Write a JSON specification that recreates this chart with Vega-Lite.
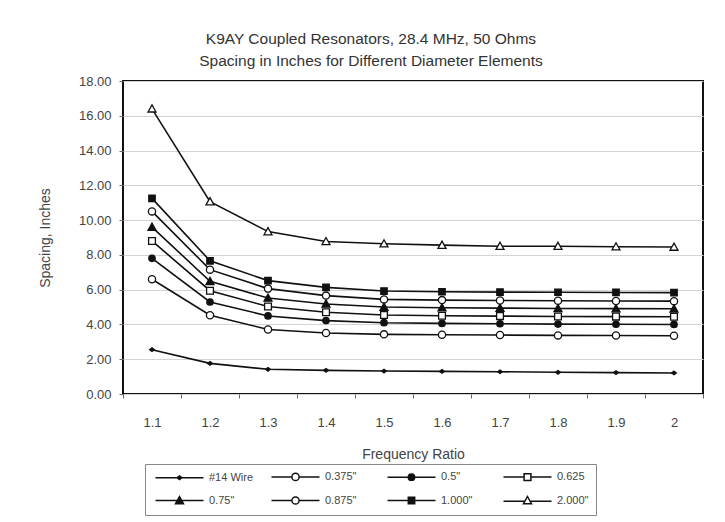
{
  "$schema": "https://vega.github.io/schema/vega-lite/v6.json",
  "autosize": {"type": "pad"},
  "width": 580,
  "height": 313,
  "padding": {"left": 38, "top": 31, "right": 22, "bottom": 10},
  "background": "white",
  "title": {
    "text": ["K9AY Coupled Resonators, 28.4 MHz, 50 Ohms", "Spacing in Inches for Different Diameter Elements"],
    "anchor": "middle",
    "frame": "bounds",
    "font": "Liberation Sans",
    "fontSize": 15.5,
    "fontWeight": "normal",
    "color": "#333",
    "lineHeight": 22,
    "offset": 6
  },
  "config": {
    "font": "Liberation Sans",
    "view": {"stroke": "#111", "strokeWidth": 2},
    "axis": {
      "labelFont": "Liberation Sans",
      "labelFontSize": 13,
      "labelColor": "#444",
      "titleFont": "Liberation Sans",
      "titleFontSize": 14,
      "titleFontWeight": "normal",
      "titleColor": "#444",
      "domain": false,
      "tickColor": "#666",
      "tickSize": 4
    },
    "legend": {
      "labelFont": "Liberation Sans",
      "labelFontSize": 11,
      "labelColor": "#444"
    }
  },
  "data": {
    "values": [
      {"series": "#14 Wire", "ratio": "1.1", "spacing": 2.55},
      {"series": "#14 Wire", "ratio": "1.2", "spacing": 1.76},
      {"series": "#14 Wire", "ratio": "1.3", "spacing": 1.42},
      {"series": "#14 Wire", "ratio": "1.4", "spacing": 1.36},
      {"series": "#14 Wire", "ratio": "1.5", "spacing": 1.32},
      {"series": "#14 Wire", "ratio": "1.6", "spacing": 1.30},
      {"series": "#14 Wire", "ratio": "1.7", "spacing": 1.28},
      {"series": "#14 Wire", "ratio": "1.8", "spacing": 1.25},
      {"series": "#14 Wire", "ratio": "1.9", "spacing": 1.23},
      {"series": "#14 Wire", "ratio": "2", "spacing": 1.21},
      {"series": "0.375\"", "ratio": "1.1", "spacing": 6.6},
      {"series": "0.375\"", "ratio": "1.2", "spacing": 4.53},
      {"series": "0.375\"", "ratio": "1.3", "spacing": 3.71},
      {"series": "0.375\"", "ratio": "1.4", "spacing": 3.51},
      {"series": "0.375\"", "ratio": "1.5", "spacing": 3.43},
      {"series": "0.375\"", "ratio": "1.6", "spacing": 3.41},
      {"series": "0.375\"", "ratio": "1.7", "spacing": 3.39},
      {"series": "0.375\"", "ratio": "1.8", "spacing": 3.37},
      {"series": "0.375\"", "ratio": "1.9", "spacing": 3.36},
      {"series": "0.375\"", "ratio": "2", "spacing": 3.35},
      {"series": "0.5\"", "ratio": "1.1", "spacing": 7.8},
      {"series": "0.5\"", "ratio": "1.2", "spacing": 5.29},
      {"series": "0.5\"", "ratio": "1.3", "spacing": 4.49},
      {"series": "0.5\"", "ratio": "1.4", "spacing": 4.22},
      {"series": "0.5\"", "ratio": "1.5", "spacing": 4.10},
      {"series": "0.5\"", "ratio": "1.6", "spacing": 4.06},
      {"series": "0.5\"", "ratio": "1.7", "spacing": 4.04},
      {"series": "0.5\"", "ratio": "1.8", "spacing": 4.02},
      {"series": "0.5\"", "ratio": "1.9", "spacing": 4.01},
      {"series": "0.5\"", "ratio": "2", "spacing": 4.0},
      {"series": "0.625", "ratio": "1.1", "spacing": 8.8},
      {"series": "0.625", "ratio": "1.2", "spacing": 5.94},
      {"series": "0.625", "ratio": "1.3", "spacing": 5.03},
      {"series": "0.625", "ratio": "1.4", "spacing": 4.70},
      {"series": "0.625", "ratio": "1.5", "spacing": 4.54},
      {"series": "0.625", "ratio": "1.6", "spacing": 4.50},
      {"series": "0.625", "ratio": "1.7", "spacing": 4.48},
      {"series": "0.625", "ratio": "1.8", "spacing": 4.46},
      {"series": "0.625", "ratio": "1.9", "spacing": 4.45},
      {"series": "0.625", "ratio": "2", "spacing": 4.44},
      {"series": "0.75\"", "ratio": "1.1", "spacing": 9.6},
      {"series": "0.75\"", "ratio": "1.2", "spacing": 6.48},
      {"series": "0.75\"", "ratio": "1.3", "spacing": 5.52},
      {"series": "0.75\"", "ratio": "1.4", "spacing": 5.18},
      {"series": "0.75\"", "ratio": "1.5", "spacing": 5.0},
      {"series": "0.75\"", "ratio": "1.6", "spacing": 4.96},
      {"series": "0.75\"", "ratio": "1.7", "spacing": 4.94},
      {"series": "0.75\"", "ratio": "1.8", "spacing": 4.92},
      {"series": "0.75\"", "ratio": "1.9", "spacing": 4.91},
      {"series": "0.75\"", "ratio": "2", "spacing": 4.90},
      {"series": "0.875\"", "ratio": "1.1", "spacing": 10.5},
      {"series": "0.875\"", "ratio": "1.2", "spacing": 7.15},
      {"series": "0.875\"", "ratio": "1.3", "spacing": 6.06},
      {"series": "0.875\"", "ratio": "1.4", "spacing": 5.66},
      {"series": "0.875\"", "ratio": "1.5", "spacing": 5.44},
      {"series": "0.875\"", "ratio": "1.6", "spacing": 5.40},
      {"series": "0.875\"", "ratio": "1.7", "spacing": 5.38},
      {"series": "0.875\"", "ratio": "1.8", "spacing": 5.36},
      {"series": "0.875\"", "ratio": "1.9", "spacing": 5.35},
      {"series": "0.875\"", "ratio": "2", "spacing": 5.34},
      {"series": "1.000\"", "ratio": "1.1", "spacing": 11.25},
      {"series": "1.000\"", "ratio": "1.2", "spacing": 7.66},
      {"series": "1.000\"", "ratio": "1.3", "spacing": 6.52},
      {"series": "1.000\"", "ratio": "1.4", "spacing": 6.13},
      {"series": "1.000\"", "ratio": "1.5", "spacing": 5.92},
      {"series": "1.000\"", "ratio": "1.6", "spacing": 5.88},
      {"series": "1.000\"", "ratio": "1.7", "spacing": 5.86},
      {"series": "1.000\"", "ratio": "1.8", "spacing": 5.85},
      {"series": "1.000\"", "ratio": "1.9", "spacing": 5.84},
      {"series": "1.000\"", "ratio": "2", "spacing": 5.83},
      {"series": "2.000\"", "ratio": "1.1", "spacing": 16.4},
      {"series": "2.000\"", "ratio": "1.2", "spacing": 11.06},
      {"series": "2.000\"", "ratio": "1.3", "spacing": 9.34},
      {"series": "2.000\"", "ratio": "1.4", "spacing": 8.77},
      {"series": "2.000\"", "ratio": "1.5", "spacing": 8.64},
      {"series": "2.000\"", "ratio": "1.6", "spacing": 8.56},
      {"series": "2.000\"", "ratio": "1.7", "spacing": 8.50},
      {"series": "2.000\"", "ratio": "1.8", "spacing": 8.50},
      {"series": "2.000\"", "ratio": "1.9", "spacing": 8.47},
      {"series": "2.000\"", "ratio": "2", "spacing": 8.45}
    ]
  },
  "encoding": {
    "x": {
      "field": "ratio",
      "type": "ordinal",
      "sort": ["1.1", "1.2", "1.3", "1.4", "1.5", "1.6", "1.7", "1.8", "1.9", "2"],
      "scale": {"type": "band", "paddingInner": 0, "paddingOuter": 0},
      "axis": {"title": "Frequency Ratio", "labelAngle": 0, "tickBand": "extent", "labelPadding": 18, "titlePadding": 18, "grid": false}
    },
    "y": {
      "field": "spacing",
      "type": "quantitative",
      "scale": {"domain": [0, 18], "nice": false},
      "axis": {
        "title": "Spacing, Inches",
        "values": [0, 2, 4, 6, 8, 10, 12, 14, 16, 18],
        "format": ".2f",
        "grid": true,
        "gridColor": "#d4d4d4",
        "labelPadding": 8,
        "titlePadding": 26
      }
    }
  },
  "layer": [
    {
      "mark": {"type": "line", "color": "#111", "strokeWidth": 1.6},
      "encoding": {"detail": {"field": "series"}}
    },
    {
      "mark": {"type": "point", "filled": true, "stroke": "#111", "strokeWidth": 1.3, "size": 64, "opacity": 1},
      "encoding": {
        "shape": {
          "field": "series",
          "type": "nominal",
          "scale": {
            "domain": ["#14 Wire", "0.375\"", "0.5\"", "0.625", "0.75\"", "0.875\"", "1.000\"", "2.000\""],
            "range": [
              "M0,-0.45L0.6,0L0,0.45L-0.6,0Z",
              "M-0.9,0A0.9,0.9,0,1,0,0.9,0A0.9,0.9,0,1,0,-0.9,0Z",
              "M-0.8,0A0.8,0.8,0,1,0,0.8,0A0.8,0.8,0,1,0,-0.8,0Z",
              "M-0.85,-0.85L0.85,-0.85L0.85,0.85L-0.85,0.85Z",
              "M0,-1L1,0.8L-1,0.8Z",
              "M-0.9,0A0.9,0.9,0,1,0,0.9,0A0.9,0.9,0,1,0,-0.9,0Z",
              "M-0.8,-0.8L0.8,-0.8L0.8,0.8L-0.8,0.8Z",
              "M0,-1L1,0.8L-1,0.8Z"
            ]
          },
          "legend": null
        },
        "fill": {
          "field": "series",
          "type": "nominal",
          "scale": {
            "domain": ["#14 Wire", "0.375\"", "0.5\"", "0.625", "0.75\"", "0.875\"", "1.000\"", "2.000\""],
            "range": ["#111", "white", "#111", "white", "#111", "white", "#111", "white"]
          },
          "legend": null
        }
      }
    },
    {
      "transform": [{"filter": "datum.spacing > 1000"}],
      "mark": {"type": "point", "filled": true, "stroke": "#111", "strokeWidth": 1.3, "size": 64, "opacity": 1},
      "encoding": {
        "shape": {
          "field": "series",
          "type": "nominal",
          "scale": {
            "domain": ["#14 Wire", "0.375\"", "0.5\"", "0.625", "0.75\"", "0.875\"", "1.000\"", "2.000\""],
            "range": [
              "M-6,0L6,0M0,-0.45L0.6,0L0,0.45L-0.6,0Z",
              "M-6,0L-0.9,0M0.9,0L6,0M-0.9,0A0.9,0.9,0,1,0,0.9,0A0.9,0.9,0,1,0,-0.9,0Z",
              "M-6,0L6,0M-0.8,0A0.8,0.8,0,1,0,0.8,0A0.8,0.8,0,1,0,-0.8,0Z",
              "M-6,0L-0.85,0M0.85,0L6,0M-0.85,-0.85L0.85,-0.85L0.85,0.85L-0.85,0.85Z",
              "M-6,0L6,0M0,-1L1,0.8L-1,0.8Z",
              "M-6,0L-0.9,0M0.9,0L6,0M-0.9,0A0.9,0.9,0,1,0,0.9,0A0.9,0.9,0,1,0,-0.9,0Z",
              "M-6,0L6,0M-0.8,-0.8L0.8,-0.8L0.8,0.8L-0.8,0.8Z",
              "M-6,0.2L-0.8,0.2M0.8,0.2L6,0.2M0,-1L1,0.8L-1,0.8Z"
            ]
          },
          "legend": {
            "title": null,
            "orient": "none",
            "legendX": 22,
            "legendY": 383,
            "direction": "horizontal",
            "columns": 4,
            "gridAlign": "all",
            "columnPadding": 14,
            "rowPadding": 9,
            "symbolSize": 64,
            "symbolOffset": 22,
            "labelOffset": 24,
            "strokeColor": "#888",
            "padding": 7,
            "encode": {
              "symbols": {
                "update": {
                  "stroke": {"value": "#111"},
                  "strokeWidth": {"value": 1.4},
                  "opacity": {"value": 1}
                }
              }
            }
          }
        },
        "fill": {
          "field": "series",
          "type": "nominal",
          "scale": {
            "domain": ["#14 Wire", "0.375\"", "0.5\"", "0.625", "0.75\"", "0.875\"", "1.000\"", "2.000\""],
            "range": ["#111", "white", "#111", "white", "#111", "white", "#111", "white"]
          }
        }
      }
    }
  ],
  "resolve": {
    "scale": {"shape": "independent", "fill": "independent"},
    "legend": {"shape": "independent", "fill": "independent"}
  }
}
